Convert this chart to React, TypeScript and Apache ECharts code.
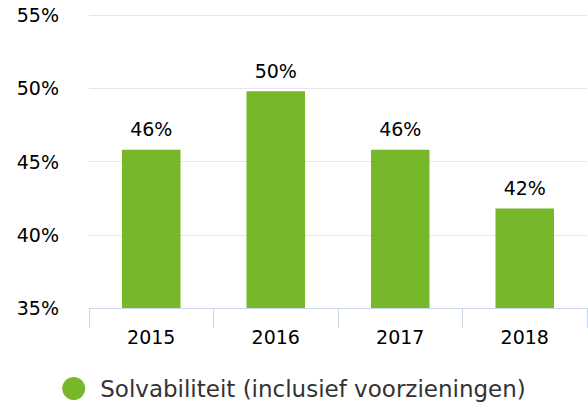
import React, { useEffect, useRef } from "react";
import * as echarts from "echarts";

const categories = ["2015", "2016", "2017", "2018"];
const values = [45.8, 49.8, 45.8, 41.8];
const yTicks = [35, 40, 45, 50, 55];
const seriesName = "Solvabiliteit (inclusief voorzieningen)";

export default function App() {
  const ref = useRef<HTMLDivElement>(null);
  useEffect(() => {
    const chart = echarts.init(ref.current!, undefined, { renderer: "svg" });
    const font = "'DejaVu Sans', Verdana, sans-serif";
    chart.setOption({
      animation: false,
      textStyle: { fontFamily: font },
      grid: { left: 89, right: 1, top: 15, bottom: 109 },
      legend: {
        top: 372,
        left: "center",
        icon: "circle",
        itemWidth: 23,
        itemHeight: 23,
        itemGap: 10,
        textStyle: { fontFamily: font, fontSize: 23, color: "#333333", padding: [0, 0, 0, 10] },
        data: [seriesName],
      },
      xAxis: {
        type: "category",
        data: categories,
        axisLine: { lineStyle: { color: "#ccd6eb", width: 1 } },
        axisTick: { show: true, length: 20, lineStyle: { color: "#ccd6eb" } },
        axisLabel: { color: "#000000", fontSize: 19, fontFamily: font, margin: 19 },
      },
      yAxis: {
        type: "value",
        min: yTicks[0],
        max: yTicks[yTicks.length - 1],
        interval: 5,
        axisLine: { show: false },
        axisTick: { show: false },
        splitLine: { lineStyle: { color: "#e6e6e6", width: 1 } },
        axisLabel: {
          color: "#000000",
          fontSize: 19,
          fontFamily: font,
          margin: 30,
          padding: [3, 0, 0, 0],
          formatter: (v: number) => `${v}%`,
        },
      },
      series: [
        {
          name: seriesName,
          type: "bar",
          data: values,
          barWidth: "47%",
          itemStyle: { color: "#76b82a" },
          label: {
            show: true,
            position: "top",
            distance: 11,
            color: "#000000",
            fontSize: 19,
            fontFamily: font,
            formatter: (p: any) => `${Math.round(p.value)}%`,
          },
        },
      ],
    });
    return () => chart.dispose();
  }, []);
  return <div ref={ref} style={{ width: 588, height: 417, position: "absolute", left: 0, top: 0 }} />;
}
